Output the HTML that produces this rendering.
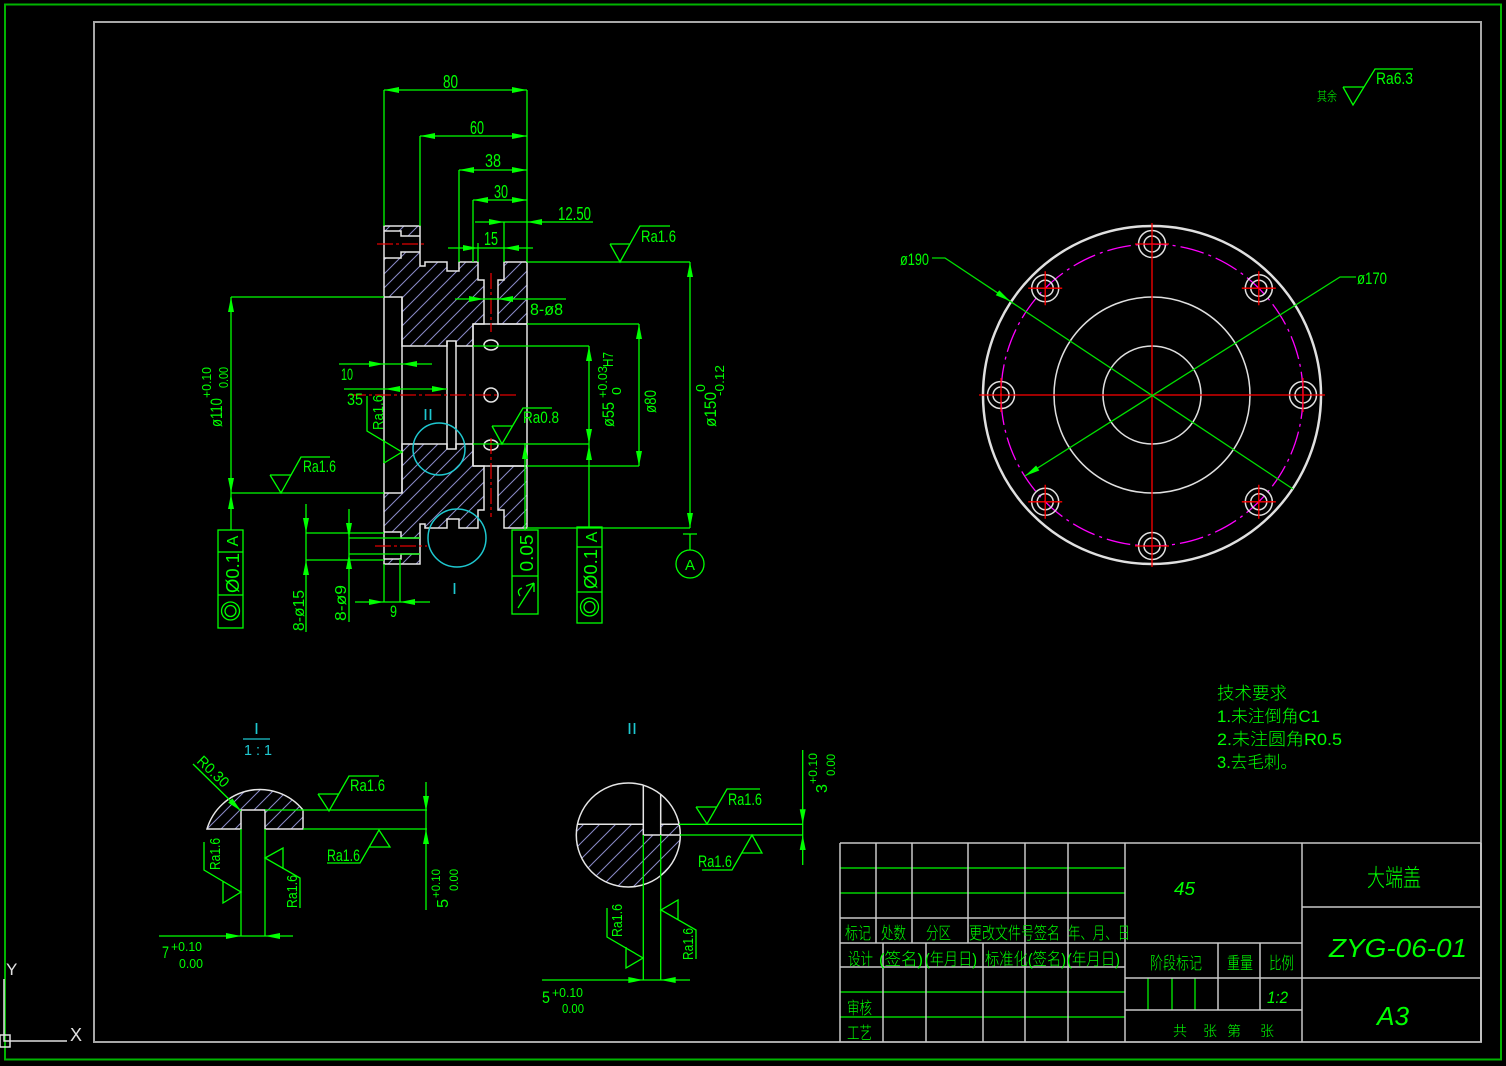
<!DOCTYPE html>
<html><head><meta charset="utf-8"><style>
html,body{margin:0;padding:0;background:#000;}
svg{display:block;}
text{font-family:"Liberation Sans","Noto Sans CJK SC",sans-serif;}
.cj{font-family:"Liberation Sans","Noto Sans CJK SC",sans-serif;font-weight:300;}
</style></head><body>
<svg width="1506" height="1066" viewBox="0 0 1506 1066" xmlns="http://www.w3.org/2000/svg">
<defs>
<pattern id="h" patternUnits="userSpaceOnUse" width="14" height="14">
<path d="M0,14 L14,0 M-2,2 L2,-2 M12,16 L16,12" stroke="#8a8ac8" stroke-width="1"/>
</pattern>
<pattern id="h2" patternUnits="userSpaceOnUse" width="16" height="16">
<path d="M0,16 L16,0 M-2,2 L2,-2 M14,18 L18,14" stroke="#8a8ac8" stroke-width="1"/>
</pattern>
</defs>
<rect width="1506" height="1066" fill="#000"/>

<!-- frames -->
<rect x="5" y="4.5" width="1496" height="1055" fill="none" stroke="#00b400" stroke-width="2"/>
<rect x="94" y="22" width="1387" height="1020" fill="none" stroke="#a8a8a8" stroke-width="2"/>

<!-- axes icon -->
<g stroke="#e0e0e0" stroke-width="1.5" fill="none">
<path d="M4,979 V1041 H67"/>
<rect x="0" y="1035" width="10" height="12"/>
</g>
<text x="6" y="975" font-size="17" fill="#e0e0e0">Y</text>
<text x="70" y="1041" font-size="18" fill="#e0e0e0">X</text>

<!-- ============ MAIN SECTION VIEW ============ -->
<path fill="url(#h)" fill-rule="evenodd" stroke="#e6e6e6" stroke-width="1.5" d="
M384,226 H420 V266 H425 V262 H447 V271 H459 V262 H478 V280 H484 V324 H473 V346 H456 V341 H447 V346 H402 V297 H384 Z
M384,231 H401 V236 H420 V252 H401 V258 H384 Z
M498,280 H504 V262 H527 V324 H498 Z
M384,564 H420 V524 H425 V528 H447 V519 H459 V528 H478 V510 H484 V466 H473 V444 H456 V449 H447 V444 H402 V493 H384 Z
M384,559 H401 V554 H420 V538 H401 V532 H384 Z
M498,510 H504 V528 H527 V466 H498 Z"/>
<g stroke="#e6e6e6" stroke-width="1.5" fill="none">
<path d="M384,297 V493 M473,324 V466 M527,324 V466 M473,324 H527 M473,466 H527 M447,341 V449 M456,341 V449 M402,297 V493"/>
<ellipse cx="491" cy="345" rx="7" ry="5"/>
<circle cx="491" cy="395" r="7"/>
<ellipse cx="491" cy="445" rx="7" ry="5"/>
</g>
<g stroke="#e00000" stroke-width="1.3" fill="none" stroke-dasharray="16 3 3 3">
<path d="M350,395 H518 M377,244 H427 M375,546 H427 M491,273 V332 M491,438 V517"/>
</g>
<g stroke="#1ec8d0" stroke-width="1.5" fill="none">
<circle cx="439" cy="449" r="26"/>
<circle cx="457" cy="538" r="29"/>
</g>
<text x="423" y="420" font-size="16" fill="#1ec8d0" textLength="10" lengthAdjust="spacingAndGlyphs">II</text>
<text x="452" y="594" font-size="16" fill="#1ec8d0" textLength="5" lengthAdjust="spacingAndGlyphs">I</text>

<!-- green dimension lines -->
<g stroke="#00ff00" stroke-width="1.3" fill="none">
<path d="M384,90 V226 M420,136 V226 M459,170 V262 M473,200 V262 M527,90 V262 M504,222 V262 M478,243 V262
M384,90 H527 M420,136 H527 M459,170 H527 M473,200 H527 M475,222 H593 M448,248 H533"/>
<path d="M527,262 H690 M610,244 L620,262 L640,226 H670 M610,244 H630"/>
<path d="M690,262 V528 M527,528 H690 M683,534 H697 M690,534 V550"/>
<circle cx="690" cy="564" r="14"/>
<path d="M527,324 H639 M527,466 H639 M639,324 V466"/>
<path d="M473,346 H589 M473,444 H589 M589,346 V527"/>
<rect x="577" y="527" width="25" height="96"/>
<path d="M577,547 H602 M577,592 H602"/>
<circle cx="589.5" cy="607" r="9"/><circle cx="589.5" cy="607" r="5.5"/>
<rect x="512" y="530" width="26" height="84"/>
<path d="M512,576 H538 M525,443 V530"/>
<path d="M518,608 L534,583 M534,583 L526,586 M534,583 L534,592 M520,596 Q516,590 522,588"/>
<path d="M492,426 L502,444 L523,408 H552 M492,426 H512"/>
<path d="M455,299 H566"/>
<path d="M231,297 V530 M231,297 H384 M231,493 H384"/>
<rect x="218" y="530" width="25" height="98"/>
<path d="M218,552 H243 M218,595 H243"/>
<circle cx="230.5" cy="611" r="9"/><circle cx="230.5" cy="611" r="5.5"/>
<path d="M339,364 H432 M344,389 H447"/>
<path d="M367,396 V431 L402,452 L384,463 M384,441 V463"/>
<path d="M270,475 L281,493 L301,457 H330 M270,475 H291"/>
<path d="M306,504 V632 M306,533 H384 M306,560 H384"/>
<path d="M349,509 V622 M349,538 H420 M349,554 H420"/>
<path d="M355,602 H430 M384,564 V602 M400,559 V602"/>
</g>
<g fill="#00ff00">
<polygon points="384,90 399,87 399,93"/><polygon points="527,90 512,87 512,93"/>
<polygon points="420,136 435,133 435,139"/><polygon points="527,136 512,133 512,139"/>
<polygon points="459,170 474,167 474,173"/><polygon points="527,170 512,167 512,173"/>
<polygon points="473,200 488,197 488,203"/><polygon points="527,200 512,197 512,203"/>
<polygon points="504,222 489,219 489,225"/><polygon points="527,222 542,219 542,225"/>
<polygon points="478,248 463,245 463,251"/><polygon points="504,248 519,245 519,251"/>
<polygon points="690,262 687,277 693,277"/><polygon points="690,528 687,513 693,513"/>
<polygon points="639,324 636,339 642,339"/><polygon points="639,466 636,451 642,451"/>
<polygon points="589,346 586,361 592,361"/><polygon points="589,444 586,429 592,429"/>
<polygon points="589,445 586,460 592,460"/><polygon points="525,444 522,459 528,459"/>
<polygon points="484,299 469,296 469,302"/><polygon points="498,299 513,296 513,302"/>
<polygon points="231,297 228,312 234,312"/><polygon points="231,493 228,478 234,478"/>
<polygon points="231,494 228,509 234,509"/>
<polygon points="384,364 369,361 369,367"/><polygon points="402,364 417,361 417,367"/>
<polygon points="385,389 400,386 400,392"/><polygon points="447,389 432,386 432,392"/>
<polygon points="306,533 303,518 309,518"/><polygon points="306,560 303,575 309,575"/>
<polygon points="349,538 346,523 352,523"/><polygon points="349,554 346,569 352,569"/>
<polygon points="384,602 369,599 369,605"/><polygon points="400,602 415,599 415,605"/>
</g>
<g fill="#00ff00" font-size="18">
<text x="443" y="88" textLength="15" lengthAdjust="spacingAndGlyphs">80</text>
<text x="470" y="134" textLength="14" lengthAdjust="spacingAndGlyphs">60</text>
<text x="485" y="167" textLength="16" lengthAdjust="spacingAndGlyphs">38</text>
<text x="494" y="198" textLength="14" lengthAdjust="spacingAndGlyphs">30</text>
<text x="558" y="220" textLength="33" lengthAdjust="spacingAndGlyphs">12.50</text>
<text x="484" y="245" textLength="14" lengthAdjust="spacingAndGlyphs">15</text>
<text x="641" y="242" font-size="17" textLength="35" lengthAdjust="spacingAndGlyphs">Ra1.6</text>
<text x="530" y="315" font-size="17" textLength="33" lengthAdjust="spacingAndGlyphs">8-ø8</text>
<text x="523" y="423" font-size="17" textLength="36" lengthAdjust="spacingAndGlyphs">Ra0.8</text>
<text x="341" y="380" font-size="17" textLength="12" lengthAdjust="spacingAndGlyphs">10</text>
<text x="347" y="405" font-size="17" textLength="16" lengthAdjust="spacingAndGlyphs">35</text>
<text x="303" y="472" font-size="17" textLength="33" lengthAdjust="spacingAndGlyphs">Ra1.6</text>
<text x="390" y="617" font-size="17" textLength="7" lengthAdjust="spacingAndGlyphs">9</text>
<text x="690" y="570" font-size="15" text-anchor="middle">A</text>

<text transform="translate(716,427) rotate(-90)" font-size="17" textLength="35" lengthAdjust="spacingAndGlyphs">ø150</text>
<text transform="translate(705,392) rotate(-90)" font-size="13" textLength="8" lengthAdjust="spacingAndGlyphs">0</text>
<text transform="translate(724,396) rotate(-90)" font-size="13" textLength="31" lengthAdjust="spacingAndGlyphs">-0.12</text>
<text transform="translate(656,413) rotate(-90)" font-size="17" textLength="23" lengthAdjust="spacingAndGlyphs">ø80</text>
<text transform="translate(614,427) rotate(-90)" font-size="17" textLength="25" lengthAdjust="spacingAndGlyphs">ø55</text>
<text transform="translate(607,398) rotate(-90)" font-size="13" textLength="32" lengthAdjust="spacingAndGlyphs">+0.03</text>
<text transform="translate(621,395) rotate(-90)" font-size="13" textLength="8" lengthAdjust="spacingAndGlyphs">0</text>
<text transform="translate(613,367) rotate(-90)" font-size="15" textLength="15" lengthAdjust="spacingAndGlyphs">H7</text>
<text transform="translate(222,427) rotate(-90)" font-size="17" textLength="29" lengthAdjust="spacingAndGlyphs">ø110</text>
<text transform="translate(211,398) rotate(-90)" font-size="13" textLength="31" lengthAdjust="spacingAndGlyphs">+0.10</text>
<text transform="translate(228,388) rotate(-90)" font-size="13" textLength="21" lengthAdjust="spacingAndGlyphs">0.00</text>
<text transform="translate(383,430) rotate(-90)" font-size="15" textLength="35" lengthAdjust="spacingAndGlyphs">Ra1.6</text>
<text transform="translate(304,631) rotate(-90)" font-size="16" textLength="41" lengthAdjust="spacingAndGlyphs">8-ø15</text>
<text transform="translate(346,621) rotate(-90)" font-size="16" textLength="36" lengthAdjust="spacingAndGlyphs">8-ø9</text>
<text transform="translate(597,537) rotate(-90)" font-size="16" text-anchor="middle">A</text>
<text transform="translate(597,569) rotate(-90)" font-size="18" text-anchor="middle" textLength="40" lengthAdjust="spacingAndGlyphs">Ø0.1</text>
<text transform="translate(533,553) rotate(-90)" font-size="18" text-anchor="middle" textLength="37" lengthAdjust="spacingAndGlyphs">0.05</text>
<text transform="translate(238,541) rotate(-90)" font-size="16" text-anchor="middle">A</text>
<text transform="translate(239,573) rotate(-90)" font-size="18" text-anchor="middle" textLength="40" lengthAdjust="spacingAndGlyphs">Ø0.1</text>
</g>

<!-- ============ DETAIL I ============ -->
<text x="254" y="734" font-size="16" fill="#1ec8d0" textLength="5" lengthAdjust="spacingAndGlyphs">I</text>
<path d="M243,739 H270" stroke="#1ec8d0" stroke-width="1.3"/>
<text x="244" y="755" font-size="15" fill="#1ec8d0" textLength="28" lengthAdjust="spacingAndGlyphs">1 : 1</text>
<path fill="url(#h)" stroke="#e6e6e6" stroke-width="1.5" d="M207,829 A55.3,55.3 0 0 1 303,810 V829 H265 V810 H241 V829 Z"/>
<g stroke="#00ff00" stroke-width="1.3" fill="none">
<path d="M241,829 V936 M265,829 V936 M265,810 H427 M303,829 H427"/>
<path d="M193,764 L241,811"/>
<path d="M318,794 L329,811 L349,776 H379 M318,794 H339"/>
<path d="M327,863 H360 L379,830 L390,847 H369"/>
<path d="M426,782 V910"/>
<path d="M204,842 V870 L241,892 L223,903 V881"/>
<path d="M300,908 V878 L265,858 L283,848 V869"/>
<path d="M159,936 H293"/>
</g>
<g fill="#00ff00">
<polygon points="241,811 228.2,802.6 232.4,798.4"/>
<polygon points="426,811 423,796 429,796"/><polygon points="426,829 423,844 429,844"/>
<polygon points="241,936 226,933 226,939"/><polygon points="265,936 280,933 280,939"/>
</g>
<g fill="#00ff00">
<text transform="translate(196,762) rotate(44)" font-size="15" textLength="38" lengthAdjust="spacingAndGlyphs">R0.30</text>
<text x="350" y="791" font-size="17" textLength="35" lengthAdjust="spacingAndGlyphs">Ra1.6</text>
<text x="327" y="861" font-size="17" textLength="33" lengthAdjust="spacingAndGlyphs">Ra1.6</text>
<text transform="translate(448,908) rotate(-90)" font-size="16" textLength="9" lengthAdjust="spacingAndGlyphs">5</text>
<text transform="translate(440,898) rotate(-90)" font-size="12" textLength="29" lengthAdjust="spacingAndGlyphs">+0.10</text>
<text transform="translate(458,891) rotate(-90)" font-size="12" textLength="22" lengthAdjust="spacingAndGlyphs">0.00</text>
<text transform="translate(220,870) rotate(-90)" font-size="15" textLength="32" lengthAdjust="spacingAndGlyphs">Ra1.6</text>
<text transform="translate(297,908) rotate(-90)" font-size="15" textLength="33" lengthAdjust="spacingAndGlyphs">Ra1.6</text>
<text x="162" y="958" font-size="17" textLength="7" lengthAdjust="spacingAndGlyphs">7</text>
<text x="171" y="951" font-size="13" textLength="31" lengthAdjust="spacingAndGlyphs">+0.10</text>
<text x="179" y="968" font-size="13" textLength="24" lengthAdjust="spacingAndGlyphs">0.00</text>
</g>

<!-- ============ DETAIL II ============ -->
<text x="627" y="734" font-size="16" fill="#1ec8d0" textLength="10" lengthAdjust="spacingAndGlyphs">II</text>
<path fill="url(#h2)" d="M577.4,824.3 H643.3 V835 H660.7 V824.3 H679.2 A52,52 0 1 1 577.4,824.3 Z"/>
<circle cx="628.3" cy="835" r="52" fill="none" stroke="#e6e6e6" stroke-width="1.5"/>
<g stroke="#e6e6e6" stroke-width="1.5" fill="none">
<path d="M643.3,785.2 V835 M660.7,794.3 V835 M577.4,824.3 H643.3 M660.7,824.3 H679.2 M643.3,835 H680"/>
</g>
<g stroke="#00ff00" stroke-width="1.3" fill="none">
<path d="M679,824.3 H802.7 M680,835 H802.7 M643.3,835 V980 M660.7,835 V980"/>
<path d="M696,807 L707,824 L727,789 H760 M696,807 H717"/>
<path d="M802.7,750 V865"/>
<path d="M702,870 H732 L752,835 L762,853 H742"/>
<path d="M607,908 V937 L643,958 L626,968 V947"/>
<path d="M696,959 V930 L661,910 L678,900 V920"/>
<path d="M542,980 H690"/>
</g>
<g fill="#00ff00">
<polygon points="802.7,824.3 799.7,809.3 805.7,809.3"/><polygon points="802.7,835 799.7,850 805.7,850"/>
<polygon points="643.3,980 628.3,977 628.3,983"/><polygon points="660.7,980 675.7,977 675.7,983"/>
</g>
<g fill="#00ff00">
<text x="728" y="805" font-size="17" textLength="34" lengthAdjust="spacingAndGlyphs">Ra1.6</text>
<text x="698" y="867" font-size="17" textLength="34" lengthAdjust="spacingAndGlyphs">Ra1.6</text>
<text transform="translate(827,793) rotate(-90)" font-size="16" textLength="9" lengthAdjust="spacingAndGlyphs">3</text>
<text transform="translate(817,784) rotate(-90)" font-size="12" textLength="31" lengthAdjust="spacingAndGlyphs">+0.10</text>
<text transform="translate(835,776) rotate(-90)" font-size="12" textLength="22" lengthAdjust="spacingAndGlyphs">0.00</text>
<text transform="translate(622,937) rotate(-90)" font-size="15" textLength="33" lengthAdjust="spacingAndGlyphs">Ra1.6</text>
<text transform="translate(693,960) rotate(-90)" font-size="15" textLength="32" lengthAdjust="spacingAndGlyphs">Ra1.6</text>
<text x="542" y="1003" font-size="17" textLength="8" lengthAdjust="spacingAndGlyphs">5</text>
<text x="552" y="997" font-size="13" textLength="31" lengthAdjust="spacingAndGlyphs">+0.10</text>
<text x="562" y="1013" font-size="13" textLength="22" lengthAdjust="spacingAndGlyphs">0.00</text>
</g>

<!-- ============ CIRCLE VIEW ============ -->
<g fill="none">
<circle cx="1152" cy="395" r="151" stroke="#ff00ff" stroke-width="1.3" stroke-dasharray="24 5 3 5"/>
<circle cx="1152" cy="395" r="169" stroke="#e0e0e0" stroke-width="2.5"/>
<circle cx="1152" cy="395" r="98" stroke="#e0e0e0" stroke-width="1.5"/>
<circle cx="1152" cy="395" r="49" stroke="#e0e0e0" stroke-width="1.5"/>
<g stroke="#e0e0e0" stroke-width="1.5">
<circle cx="1152" cy="244" r="13.5"/><circle cx="1152" cy="244" r="8"/>
<circle cx="1258.8" cy="288.2" r="13.5"/><circle cx="1258.8" cy="288.2" r="8"/>
<circle cx="1303" cy="395" r="13.5"/><circle cx="1303" cy="395" r="8"/>
<circle cx="1258.8" cy="501.8" r="13.5"/><circle cx="1258.8" cy="501.8" r="8"/>
<circle cx="1152" cy="546" r="13.5"/><circle cx="1152" cy="546" r="8"/>
<circle cx="1045.2" cy="501.8" r="13.5"/><circle cx="1045.2" cy="501.8" r="8"/>
<circle cx="1001" cy="395" r="13.5"/><circle cx="1001" cy="395" r="8"/>
<circle cx="1045.2" cy="288.2" r="13.5"/><circle cx="1045.2" cy="288.2" r="8"/>
</g>
<g stroke="#ff0000" stroke-width="1.3">
<path d="M979,395 H1325 M1152,223 V567"/>
<path d="M1135,244 H1169 M1135,546 H1169 M1001,378 V412 M1303,378 V412"/>
<path d="M1241.8,288.2 H1275.8 M1258.8,271.2 V305.2"/>
<path d="M1241.8,501.8 H1275.8 M1258.8,484.8 V518.8"/>
<path d="M1028.2,501.8 H1062.2 M1045.2,484.8 V518.8"/>
<path d="M1028.2,288.2 H1062.2 M1045.2,271.2 V305.2"/>
</g>
<g stroke="#00e000" stroke-width="1.3">
<path d="M932,258 H945 L1293,489"/>
<path d="M1356,277 H1340 L1025,476"/>
</g>
</g>
<g fill="#00ff00">
<polygon points="1010,301 995.8,295.2 999.2,290.2"/>
<polygon points="1025,476 1036.1,465.5 1039.3,470.5"/>
<text x="900" y="265" font-size="17" textLength="29" lengthAdjust="spacingAndGlyphs">ø190</text>
<text x="1357" y="284" font-size="17" textLength="30" lengthAdjust="spacingAndGlyphs">ø170</text>
</g>

<!-- top right roughness -->
<g stroke="#00ff00" stroke-width="1.3" fill="none">
<path d="M1343,87 L1353,105 L1375,69 H1413 M1343,87 H1364"/>
</g>
<text x="1317" y="101" font-size="13" fill="#00ff00" class="cj" textLength="20" lengthAdjust="spacingAndGlyphs">其余</text>
<text x="1376" y="84" font-size="17" fill="#00ff00" textLength="37" lengthAdjust="spacingAndGlyphs">Ra6.3</text>

<!-- tech requirements -->
<g fill="#00ff00" font-size="17" class="cj">
<text x="1217" y="699" textLength="70" lengthAdjust="spacingAndGlyphs">技术要求</text>
<text x="1217" y="722" textLength="103" lengthAdjust="spacingAndGlyphs">1.未注倒角C1</text>
<text x="1217" y="745" textLength="125" lengthAdjust="spacingAndGlyphs">2.未注圆角R0.5</text>
<text x="1217" y="768" textLength="80" lengthAdjust="spacingAndGlyphs">3.去毛刺。</text>
</g>

<!-- ============ TITLE BLOCK ============ -->
<g stroke="#00d000" stroke-width="1.5" fill="none">
<path d="M840,868 H1125 M840,893 H1125 M840,992 H1125 M840,1017 H1125"/>
<path d="M1148,978 V1010 M1172,978 V1010 M1195,978 V1010"/>
</g>
<g stroke="#c8c8c8" stroke-width="1.5" fill="none">
<path d="M840,843 H1481 M840,843 V1042 M1481,843 V1042"/>
<path d="M840,918 H1125 M840,943 H1302 M840,967 H1125"/>
<path d="M876,843 V943 M912,843 V943 M968,843 V943 M1025,843 V1042 M1068,843 V1042 M1125,843 V1042"/>
<path d="M883,943 V1042 M926,943 V1042 M983,943 V1042"/>
<path d="M1302,843 V1042 M1125,978 H1481 M1125,1010 H1302 M1218,943 V1010 M1260,943 V1010 M1302,907 H1481"/>
</g>
<g fill="#00ff00" font-size="17" class="cj">
<text x="845" y="939" textLength="26" lengthAdjust="spacingAndGlyphs">标记</text>
<text x="881" y="939" textLength="25" lengthAdjust="spacingAndGlyphs">处数</text>
<text x="926" y="939" textLength="25" lengthAdjust="spacingAndGlyphs">分区</text>
<text x="969" y="939" textLength="91" lengthAdjust="spacingAndGlyphs">更改文件号签名</text>
<text x="1068" y="939" textLength="62" lengthAdjust="spacingAndGlyphs">年、月、日</text>
<text x="848" y="965" textLength="25" lengthAdjust="spacingAndGlyphs">设计</text>
<text x="879" y="965" textLength="44" lengthAdjust="spacingAndGlyphs">(签名)</text>
<text x="925" y="965" textLength="52" lengthAdjust="spacingAndGlyphs">(年月日)</text>
<text x="985" y="965" textLength="81" lengthAdjust="spacingAndGlyphs">标准化(签名)</text>
<text x="1067" y="965" textLength="53" lengthAdjust="spacingAndGlyphs">(年月日)</text>
<text x="847" y="1014" textLength="25" lengthAdjust="spacingAndGlyphs">审核</text>
<text x="847" y="1039" textLength="25" lengthAdjust="spacingAndGlyphs">工艺</text>
<text x="1150" y="969" textLength="52" lengthAdjust="spacingAndGlyphs">阶段标记</text>
<text x="1227" y="969" textLength="26" lengthAdjust="spacingAndGlyphs">重量</text>
<text x="1269" y="969" textLength="25" lengthAdjust="spacingAndGlyphs">比例</text>
<text x="1173" y="1036" font-size="14">共</text>
<text x="1203" y="1036" font-size="14">张</text>
<text x="1227" y="1036" font-size="14">第</text>
<text x="1260" y="1036" font-size="14">张</text>
<text x="1367" y="886" font-size="24" textLength="54" lengthAdjust="spacingAndGlyphs">大端盖</text>
</g>
<g fill="#00ff00" font-style="italic">
<text x="1174" y="895" font-size="18" textLength="21" lengthAdjust="spacingAndGlyphs">45</text>
<text x="1267" y="1003" font-size="17" textLength="21" lengthAdjust="spacingAndGlyphs">1:2</text>
<text x="1329" y="957" font-size="26" textLength="138" lengthAdjust="spacingAndGlyphs">ZYG-06-01</text>
<text x="1377" y="1025" font-size="26" textLength="32" lengthAdjust="spacingAndGlyphs">A3</text>
</g>
</svg>
</body></html>
